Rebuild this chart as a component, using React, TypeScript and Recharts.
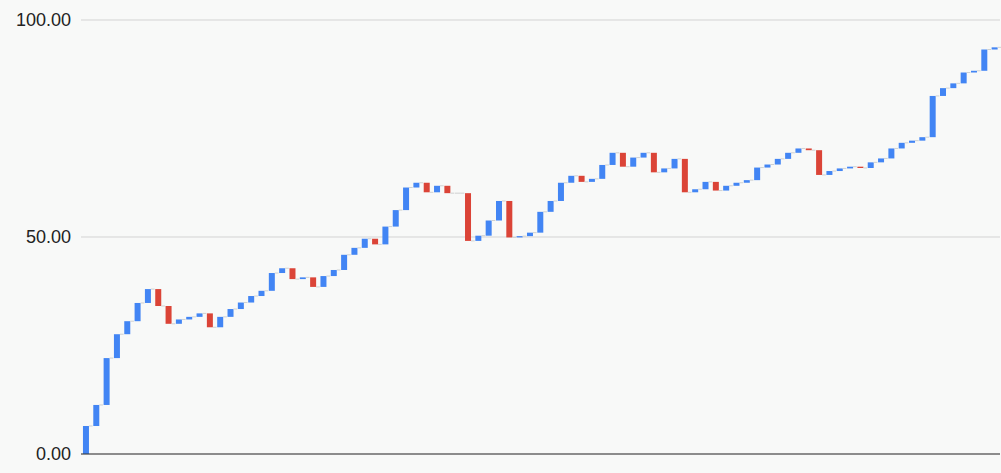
import { Bar, BarChart, CartesianGrid, ReferenceLine, XAxis, YAxis } from "recharts";

// running total after each step (each bar starts where the previous one ended)
const closeValues = [
  6.45, 11.3, 22.1, 27.6, 30.6, 34.8, 38.0, 34.1, 30.0, 31.0,
  31.6, 32.4, 29.2, 31.6, 33.4, 34.9, 36.4, 37.6, 41.7, 42.8,
  40.3, 40.7, 38.5, 41.0, 42.4, 45.9, 47.5, 49.6, 48.3, 52.4,
  56.2, 61.4, 62.5, 60.3, 61.8, 60.1, 60.1, 49.1, 50.3, 53.8,
  58.3, 49.9, 50.2, 51.0, 55.8, 58.3, 62.5, 64.1, 62.7, 63.4,
  66.6, 69.4, 66.2, 68.3, 69.4, 64.9, 65.8, 68.0, 60.3, 61.0,
  62.7, 60.7, 61.8, 62.5, 63.1, 66.0, 66.7, 68.0, 69.4, 70.4,
  70.0, 64.3, 65.2, 65.8, 66.2, 65.9, 67.2, 68.1, 70.4, 71.7,
  72.2, 73.0, 82.5, 84.3, 85.4, 87.9, 88.3, 93.2, 93.7
];
const startValue = 0;
const yTicks = [0, 50, 100];

const RISE = "#4285F4";
const FALL = "#DB4437";
const CONNECTOR = "#cfd1d1";

const data = closeValues.map((close, i) => {
  const open = i === 0 ? startValue : closeValues[i - 1];
  return { step: String(i + 1), open, close };
});

function StepShape(props: any) {
  const { x, y, width, height, payload } = props;
  const top = Math.min(y, y + height);
  const bottom = Math.max(y, y + height);
  const rising = payload.close >= payload.open;
  const closeY = rising ? top : bottom;
  const gap = (width / 0.62) * 0.38;
  return (
    <g>
      {bottom - top > 0.5 ? (
        <rect x={x} y={top} width={width} height={bottom - top} fill={rising ? RISE : FALL} />
      ) : (
        <line x1={x} x2={x + width} y1={closeY} y2={closeY} stroke={CONNECTOR} strokeWidth={1} />
      )}
      <line x1={x + width} x2={x + width + gap} y1={closeY} y2={closeY} stroke={CONNECTOR} strokeWidth={1} />
    </g>
  );
}

export default function App() {
  return (
    <div style={{ position: "absolute", left: 0, top: 0, width: 1001, height: 473, background: "#f8f9f8" }}>
      <BarChart
        width={1001}
        height={473}
        data={data}
        margin={{ top: 20, right: 1, left: 0, bottom: 19 }}
        barCategoryGap="19%"
      >
        <CartesianGrid stroke="#d3d3d3" vertical={false} />
        <XAxis dataKey="step" hide />
        <YAxis
          domain={[0, 100]}
          ticks={yTicks}
          width={81}
          axisLine={false}
          tickLine={false}
          tickSize={0}
          tickMargin={10}
          tickFormatter={(v: number) => v.toFixed(2)}
          tick={{ fontSize: 18, fill: "#222", fontFamily: "Liberation Sans, Arial, sans-serif" }}
        />
        <ReferenceLine y={0} stroke="#333" strokeWidth={1} />
        <Bar
          dataKey={(d: any) => [d.open, d.close]}
          shape={<StepShape />}
          isAnimationActive={false}
        />
      </BarChart>
    </div>
  );
}
